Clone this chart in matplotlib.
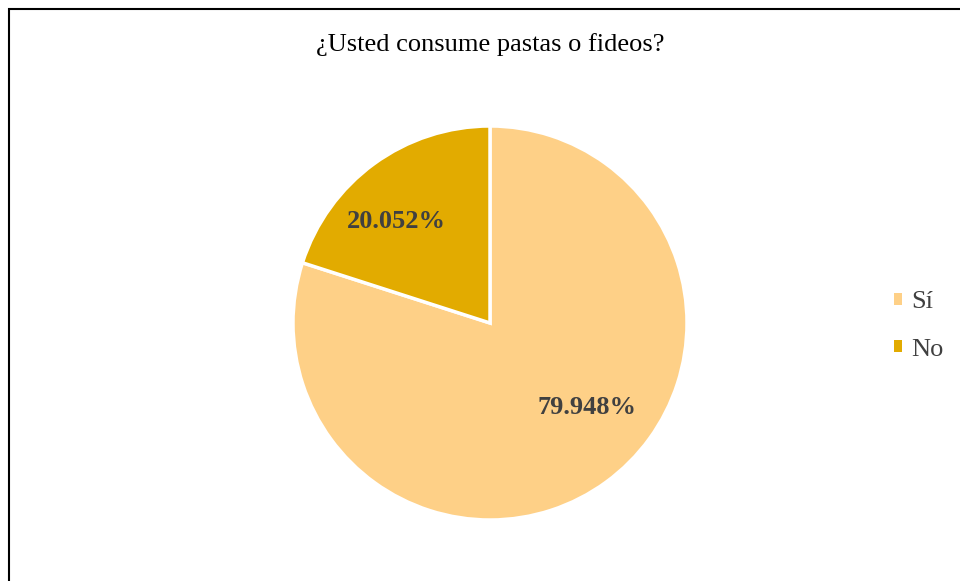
import matplotlib
matplotlib.use("Agg")
import matplotlib.pyplot as plt
from matplotlib.patches import Rectangle, Patch

title = "¿Usted consume pastas o fideos?"
categories = ["Sí", "No"]
values = [79.948, 20.052]
colors = ["#FED087", "#E2AB00"]

W, H = 960, 581
fig = plt.figure(figsize=(W / 100, H / 100), dpi=100)
fig.patch.set_facecolor("white")

serif = ["Liberation Serif", "DejaVu Serif"]

# outer frame (cut at right/bottom edges like the reference)
fig.add_artist(Rectangle((8.5 / W, -0.1), 1.2, (H - 8.5) / H + 0.1,
                         transform=fig.transFigure, fill=False,
                         edgecolor="black", linewidth=1.5))

cx, cy, r = 490, 323, 197
ax = fig.add_axes([(cx - r) / W, (H - cy - r) / H, 2 * r / W, 2 * r / H])
wedges, texts, autotexts = ax.pie(
    values, colors=colors, startangle=90, counterclock=False,
    radius=1.0, autopct=lambda p: f"{p:.3f}%", pctdistance=0.65,
    wedgeprops=dict(edgecolor="white", linewidth=2.5),
    textprops=dict(family=serif, fontsize=19, fontweight="bold", color="#404040"))
ax.set_xlim(-1, 1)
ax.set_ylim(-1, 1)
ax.set_aspect("auto")
ax.axis("off")

# label placement as in the reference
label_pos = [(97 / r, -85 / r), (-94 / r, 102 / r)]
for t, pos in zip(autotexts, label_pos):
    t.set_position(pos)
    t.set_ha("center")
    t.set_va("center")

fig.text(cx / W, 1 - 45 / H, title, ha="center", va="center",
         family=serif, fontsize=19, color="#000000")

handles = [Patch(facecolor=c, edgecolor="none") for c in colors]
leg = fig.legend(handles, categories, loc="center left",
                 bbox_to_anchor=(870 / W, 1 - 326 / H),
                 frameon=False, handlelength=0.32, handleheight=0.32,
                 handletextpad=0.35, labelspacing=0.95,
                 prop=dict(family=serif, size=19))
for t in leg.get_texts():
    t.set_color("#404040")

fig.savefig("out.png", dpi=100, facecolor="white")
